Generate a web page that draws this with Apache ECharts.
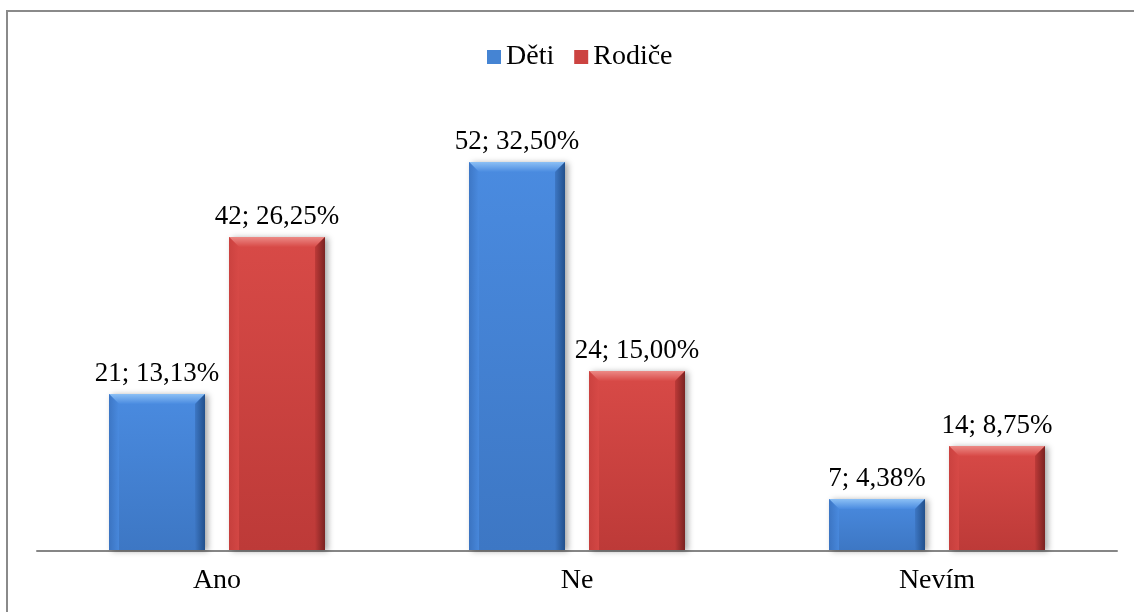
<!DOCTYPE html>
<html>
<head>
<meta charset="utf-8">
<script src="https://cdn.jsdelivr.net/npm/echarts@6/dist/echarts.min.js"></script>
<style>
  html, body { margin: 0; padding: 0; background: #fff; }
  #chart { width: 1134px; height: 612px; }
</style>
</head>
<body>
<div id="chart"></div>
<script>
// Answers per group: counts and their share of all respondents
const categories = ['Ano', 'Ne', 'Nevím'];
const seriesNames = ['Děti', 'Rodiče'];
const detiCounts = [21, 52, 7];
const detiPercents = ['13,13%', '32,50%', '4,38%'];
const rodiceCounts = [42, 24, 14];
const rodicePercents = ['26,25%', '15,00%', '8,75%'];

const FONT = '"Liberation Serif", "Times New Roman", serif';

// Bevelled bar palettes: body gradient, light top edge, left and right edges
const palettes = [
  { body: ['#4a8be0', '#3d77c4'], top: '#8cc0f5', left: '#3a72bf', right: '#22508c', legend: '#4584d3' },
  { body: ['#d84a47', '#bd3a38'], top: '#ec8a86', left: '#c8403e', right: '#7a2221', legend: '#cc4341' }
];

const BAR_FRAC = 96 / 360;    // bar width as share of the category band
const OFFSET_FRAC = 60 / 360; // bar centre offset from the band centre

function bevelBar(params, api) {
  const si = params.seriesIndex;
  const pal = palettes[si];
  const cat = api.value(0);
  const val = api.value(1);
  const base = api.coord([cat, 0]);
  const top = api.coord([cat, val]);
  const band = api.size([1, 0])[0];
  const w = band * BAR_FRAC;
  const cx = base[0] + (si === 0 ? -1 : 1) * band * OFFSET_FRAC;
  const x0 = Math.round(cx - w / 2), x1 = Math.round(cx + w / 2);
  const y0 = Math.round(top[1]), y1 = Math.round(base[1]) - 1;
  const b = Math.min(10, (y1 - y0) / 2);
  const pct = (si === 0 ? detiPercents : rodicePercents)[params.dataIndex];
  return {
    type: 'group',
    children: [
      {
        type: 'rect',
        shape: { x: x0, y: y0, width: x1 - x0, height: y1 - y0 },
        style: {
          fill: new echarts.graphic.LinearGradient(0, 0, 0, 1, [
            { offset: 0, color: pal.body[0] }, { offset: 1, color: pal.body[1] }
          ]),
          shadowBlur: 6, shadowOffsetX: 3, shadowOffsetY: 1, shadowColor: 'rgba(0,0,0,0.35)'
        }
      },
      {
        type: 'polygon',
        shape: { points: [[x0, y0], [x1, y0], [x1 - b, y0 + b], [x0 + b, y0 + b]] },
        style: { fill: new echarts.graphic.LinearGradient(0, 0, 0, 1, [
          { offset: 0, color: pal.top }, { offset: 1, color: pal.body[0] }
        ]) }
      },
      {
        type: 'polygon',
        shape: { points: [[x0, y0], [x0 + b, y0 + b], [x0 + b, y1], [x0, y1]] },
        style: { fill: new echarts.graphic.LinearGradient(0, 0, 1, 0, [
          { offset: 0, color: pal.left }, { offset: 1, color: pal.body[0] }
        ]), opacity: 0.8 }
      },
      {
        type: 'polygon',
        shape: { points: [[x1, y0], [x1, y1], [x1 - b, y1], [x1 - b, y0 + b]] },
        style: { fill: new echarts.graphic.LinearGradient(0, 0, 1, 0, [
          { offset: 0, color: pal.body[1] }, { offset: 1, color: pal.right }
        ]) }
      },
      {
        type: 'text',
        x: (x0 + x1) / 2,
        y: y0 - 7,
        style: {
          text: val + '; ' + pct,
          font: '27px ' + FONT,
          fill: '#000',
          align: 'center',
          verticalAlign: 'bottom'
        }
      }
    ]
  };
}

const chart = echarts.init(document.getElementById('chart'), null, { renderer: 'canvas' });
chart.setOption({
  animation: false,
  backgroundColor: '#fff',
  graphic: [{
    type: 'rect',
    shape: { x: 7, y: 11, width: 1200, height: 700 },
    style: { fill: 'none', stroke: '#8a8a8a', lineWidth: 2 },
    silent: true
  }],
  legend: {
    top: 38,
    left: 482,
    icon: 'rect',
    itemWidth: 14,
    itemHeight: 14,
    itemGap: 20,
    textStyle: { fontFamily: FONT, fontSize: 28, color: '#000', padding: [0, 0, 0, 0] },
    data: seriesNames
  },
  grid: { left: 37, right: 17, top: 102, bottom: 61 },
  xAxis: {
    type: 'category',
    data: categories,
    axisTick: { show: false },
    axisLine: { lineStyle: { color: '#868686', width: 2 } },
    axisLabel: { fontFamily: FONT, fontSize: 28, color: '#000', margin: 16 }
  },
  yAxis: { type: 'value', min: 0, max: 60, show: false, splitLine: { show: false } },
  series: [
    {
      name: seriesNames[0],
      type: 'custom',
      itemStyle: { color: palettes[0].legend },
      renderItem: bevelBar,
      encode: { x: 0, y: 1 },
      data: detiCounts.map((v, i) => [i, v])
    },
    {
      name: seriesNames[1],
      type: 'custom',
      itemStyle: { color: palettes[1].legend },
      renderItem: bevelBar,
      encode: { x: 0, y: 1 },
      data: rodiceCounts.map((v, i) => [i, v])
    }
  ]
});
</script>
</body>
</html>
